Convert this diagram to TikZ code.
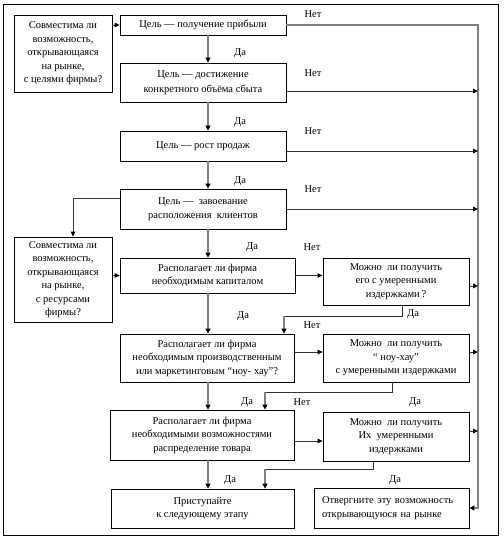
\documentclass[tikz,border=0pt]{standalone}
\usepackage{fontspec}
\setmainfont{Liberation Serif}
\usetikzlibrary{arrows.meta}
\newcommand{\fsz}{\fontsize{10.5}{13.5}\selectfont}
\begin{document}
\begin{tikzpicture}[x=1pt,y=-1pt,
  box/.style={draw=black, line width=0.8pt, align=center, inner sep=0pt, font=\fsz},
  lbl/.style={inner sep=0pt, font=\fsz},
  mainarr/.style={draw=black!50, line width=1.8pt, -{Triangle[length=5pt,width=5pt,color=black]}},
  mainline/.style={draw=black!50, line width=1.8pt},
  thinarr/.style={draw=black!80, line width=0.8pt, -{Triangle[length=5pt,width=4.5pt,color=black]}},
  thinline/.style={draw=black!80, line width=0.8pt}]
\useasboundingbox (0,0) rectangle (503,540);
\node[draw=black, line width=0.8pt, inner sep=0pt, minimum width=495pt, minimum height=531pt] (frame) at (250.5,269.5) {};

% boxes
\node[box, minimum width=98pt, minimum height=77pt] (A) at (63,53.5) {Совместима ли\\возможность,\\открывающаяся\\на рынке,\\с целями фирмы?};
\node[box, minimum width=166pt, minimum height=20pt] (b1) at (203,25) {Цель — получение прибыли};
\node[box, minimum width=166pt, minimum height=39pt] (b2) at (203,82.5) {Цель — достижение\\[1.5pt]конкретного объёма сбыта};
\node[box, minimum width=166pt, minimum height=30pt] (b3) at (203,146) {Цель — рост продаж};
\node[box, minimum width=166pt, minimum height=40pt] (b4) at (203,209) {Цель —\ \ завоевание\\расположения\ \ клиентов};
\node[box, minimum width=98pt, minimum height=85pt] (B) at (63,279.5) {Совместима ли\\возможность,\\открывающаяся\\на рынке,\\с ресурсами\\фирмы?};
\node[box, minimum width=175pt, minimum height=35pt] (b5) at (207.5,275.5) {Располагает ли фирма\\необходимым капиталом};
\node[box, minimum width=146pt, minimum height=47pt] (b6) at (396,281.5) {Можно\ \ ли получить\\его с умеренными\\издержками\,?};
\node[box, minimum width=174pt, minimum height=48pt] (b7) at (207,358) {Располагает ли фирма\\необходимым производственным\\или маркетинговым “ноу- хау”?};
\node[box, minimum width=146pt, minimum height=48pt] (b8) at (396,358) {Можно\ \ ли получить\\“ ноу-хау”\\с умеренными издержками};
\node[box, minimum width=184pt, minimum height=50pt] (b9) at (202,435) {Располагает ли фирма\\необходимыми возможностями\\распределение товара};
\node[box, minimum width=146pt, minimum height=49pt] (b10) at (396,436.5) {Можно\ \ ли получить\\Их\ \ умеренными\\издержками};
\node[box, minimum width=183pt, minimum height=39pt] (b11) at (202.5,508.5) {Приступайте\\к следующему этапу};
\node[box, minimum width=155pt, minimum height=40pt, text width=139pt, inner xsep=8pt, align=left] (b12) at (391.5,508) {Отвергните эту возможность\\открывающуюся на рынке};

% helper coordinates
\coordinate (cx) at (208,0);
\coordinate (rx) at (478,0);
\coordinate (r2) at (478,91);
\coordinate (r3) at (478,151);
\coordinate (r4) at (478,209);
\coordinate (r6) at (478,286);
\coordinate (r8) at (478,352);
\coordinate (r10) at (478,431);
\coordinate (l4) at (73,198);
\coordinate (m9) at (300,441);
\coordinate (d6) at (402,316);
\coordinate (j6) at (284,316);
\coordinate (d8) at (392,392);
\coordinate (j8) at (265,392);
\coordinate (d10) at (373,469);
\coordinate (j10) at (265,469);

% main column
\draw[mainarr] (b1.south -| cx) -- (b2.north -| cx);
\draw[mainarr] (b2.south -| cx) -- (b3.north -| cx);
\draw[mainarr] (b3.south -| cx) -- (b4.north -| cx);
\draw[mainarr] (b4.south -| cx) -- (b5.north -| cx);
\draw[mainarr] (b5.south -| cx) -- (b7.north -| cx);
\draw[mainarr] (b7.south -| cx) -- (b9.north -| cx);
\draw[mainarr] (b9.south -| cx) -- (b11.north -| cx);

% right collector
\draw[mainarr] (b1.east) -- (b1.east -| rx) |- (b12.east);
\draw[thinarr] (b2.east |- r2) -- (r2);
\draw[thinarr] (b3.east |- r3) -- (r3);
\draw[thinarr] (b4.east |- r4) -- (r4);
\draw[thinarr] (b6.east |- r6) -- (r6);
\draw[thinarr] (b8.east |- r8) -- (r8);
\draw[thinarr] (b10.east |- r10) -- (r10);

% side connections
\draw[thinarr] (b1.west -| A.east) -- (b1.west);
\draw[thinarr] (b4.west |- l4) -- (l4) -- (l4 |- B.north);
\draw[thinarr] (B.east |- b5.west) -- (b5.west);
\draw[thinarr] (b5.east) -- (b6.west |- b5.east);
\draw[thinarr] (b7.east |- r8) -- (b8.west |- r8);
\draw[thinarr] (b9.east |- m9) -- (b10.west |- m9);

% return connections
\draw[thinline] (d6 |- b6.south) -- (d6) -- (j6);
\draw[mainarr] (j6) -- (j6 |- b7.north);
\draw[thinline] (d8 |- b8.south) -- (d8) -- (j8);
\draw[mainarr] (j8) -- (j8 |- b9.north);
\draw[thinline] (d10 |- b10.south) -- (d10) -- (j10);
\draw[mainarr] (j10) -- (j10 |- b11.north);

% labels
\node[lbl] (n1) at (313,14) {Нет};
\node[lbl] (n2) at (313,73) {Нет};
\node[lbl] (n3) at (313,131) {Нет};
\node[lbl] (n4) at (313,189) {Нет};
\node[lbl] (n5) at (312,247) {Нет};
\node[lbl] (n6) at (312,325) {Нет};
\node[lbl] (n7) at (302,402) {Нет};
\node[lbl] (y1) at (240,53) {Да};
\node[lbl] (y2) at (240,122) {Да};
\node[lbl] (y3) at (240,181) {Да};
\node[lbl] (y4) at (252,247) {Да};
\node[lbl] (y5) at (243,316) {Да};
\node[lbl] (y6) at (247,402) {Да};
\node[lbl] (y7) at (230,480) {Да};
\node[lbl] (y8) at (413,314) {Да};
\node[lbl] (y9) at (415,402) {Да};
\node[lbl] (y10) at (395,480) {Да};
\end{tikzpicture}
\end{document}
